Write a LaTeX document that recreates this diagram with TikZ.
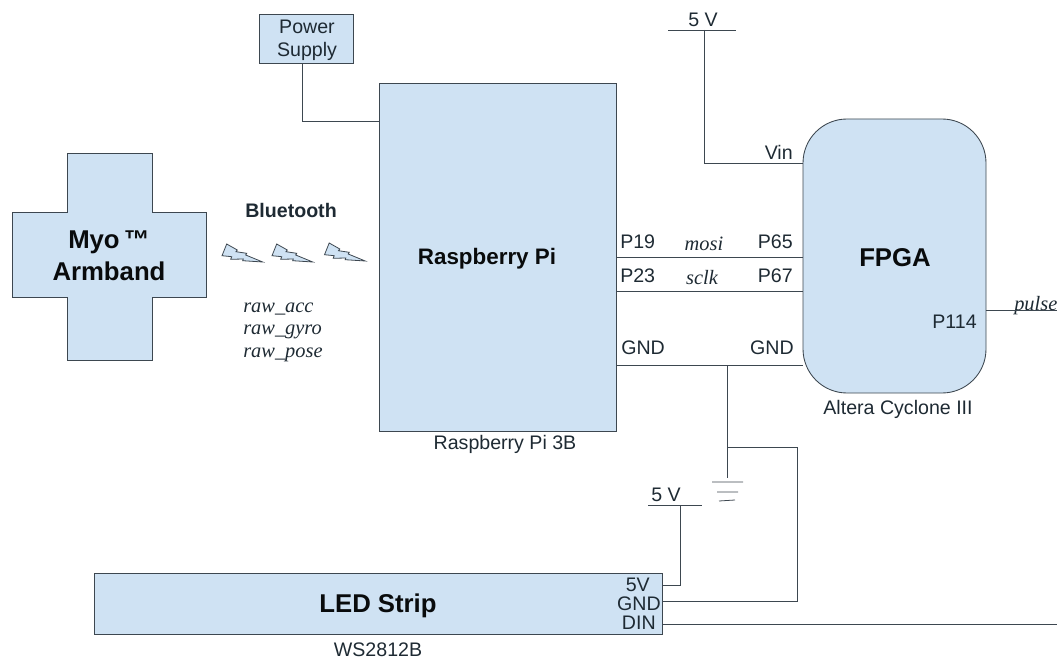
\documentclass[tikz,border=0pt]{standalone}
\usepackage{fontspec}
\setmainfont{Liberation Sans}
\newfontfamily\serifit[ItalicFont=Liberation Serif Italic]{Liberation Serif}
\definecolor{boxfill}{HTML}{CFE2F3}
\definecolor{boxline}{HTML}{3D4750}
\definecolor{txt}{HTML}{1E2A33}
\tikzset{
  wire/.style={draw=boxline,line width=0.7pt},
  block/.style={draw=boxline,fill=boxfill,line width=0.65pt,inner sep=0pt},
  lbl/.style={text=txt,inner sep=0pt,font=\fontsize{14.7pt}{17.5pt}\selectfont,align=center},
  ttl/.style={text=black!85!boxline,inner sep=0pt,font=\fontsize{16.8pt}{24pt}\selectfont\bfseries,align=center},
  ttlb/.style={ttl,font=\fontsize{19.3pt}{24pt}\selectfont\bfseries},
  sig/.style={text=txt,inner sep=0pt,font=\fontsize{15.3pt}{16.9pt}\selectfont\serifit\itshape,align=left},
  bolt/.style={draw=boxline,fill=boxfill,line width=0.6pt,line join=miter},
}
\begin{document}
\begin{tikzpicture}[x=0.75pt,y=-0.75pt]
\useasboundingbox (0,0) rectangle (1057,660);
% blocks
\node[block,minimum width=177.75pt,minimum height=261pt] (pi) at (497.5,257) {};
\node[block,minimum width=137.25pt,minimum height=205.5pt,rounded corners=33pt] (fpga) at (894.5,256) {};
\node[block,minimum width=70.5pt,minimum height=36.75pt] (psu) at (306,38.5) {};
\node[block,minimum width=426pt,minimum height=45.75pt] (led) at (378,603.5) {};
\draw[block] (67,153) -- (152,153) -- (152,212) -- (206,212) -- (206,297) -- (152,297) -- (152,360) -- (67,360) -- (67,297) -- (12,297) -- (12,212) -- (67,212) -- cycle;
% titles
\node[ttlb] (myoT) at (109,256) {Myo\,™\\Armband};
\node[ttl] (piT) at (487,259) {Raspberry Pi};
\node[ttlb] (fpgaT) at (895,258) {FPGA};
\node[ttlb] (ledT) at (378,606) {LED Strip};
\node[lbl] (psuT) at (307,40) {Power\\Supply};
\node[lbl,font=\fontsize{14.7pt}{16pt}\selectfont\bfseries] (bt) at (291,210) {Bluetooth};
% signals
\node[sig,anchor=west] (raw) at (243,332) {raw\_acc\\raw\_gyro\\raw\_pose};
\node[sig] (mosi) at (704,244) {mosi};
\node[sig] (sclk) at (702,278) {sclk};
\node[sig,anchor=west] (pulse) at (1014,306) {pulse};
% pin labels
\node[lbl,anchor=west] (p19) at (620,242) {P19};
\node[lbl,anchor=west] (p23) at (620,276) {P23};
\node[lbl,anchor=west] (gndl) at (621,348) {GND};
\node[lbl,anchor=east] (p65) at (793,242) {P65};
\node[lbl,anchor=east] (p67) at (793,276) {P67};
\node[lbl,anchor=east] (gndr) at (794,348) {GND};
\node[lbl,anchor=east] (vin) at (793,152) {Vin};
\node[lbl,anchor=east] (p114) at (977,322) {P114};
\node[lbl] (cap1) at (505,444) {Raspberry Pi 3B};
\node[lbl] (cap2) at (898,409) {Altera Cyclone III};
\node[lbl] (cap3) at (378,650) {WS2812B};
\node[lbl] (v1) at (703,20) {5 V};
\node[lbl] (v2) at (666,495) {5 V};
\node[lbl,anchor=east] (s5) at (650,585) {5V};
\node[lbl,anchor=east] (sg) at (661,604) {GND};
\node[lbl,anchor=east] (sd) at (656,623) {DIN};
% lightning
\foreach \dx/\dy in {0/0,50/0,102.5/-1}{
  \draw[bolt,shift={(\dx*0.75pt,-\dy*0.75pt)}] (222,255.7) -- (226.7,244) -- (237.3,250) -- (236,251.7) -- (246.7,253.3) -- (245.7,255) -- (262.7,262) -- (242.7,260.7) -- (243.3,259) -- (230.7,259.3) -- (231.7,256.7) -- cycle;
}
% free ends and junctions
\coordinate (rail1L) at (668,30);
\coordinate (rail1R) at (736,30);
\coordinate (rail1) at (704,30);
\coordinate (rail2L) at (648,505);
\coordinate (rail2R) at (702,505);
\coordinate (rail2) at (680,505);
\coordinate (j) at (727,365);
\coordinate (j2) at (727,447);
\coordinate (g0) at (727,478);
\coordinate (gA) at (712,482);
\coordinate (gB) at (743,482);
\coordinate (gC) at (717,492);
\coordinate (gD) at (738,492);
\coordinate (gE) at (719,501);
\coordinate (gF) at (735,500);
\coordinate (offD) at (1057,624);
\coordinate (offP) at (1057,310);
% connectors
\draw[wire] (psu.south -| 302,0) |- (pi.west |- 0,121);
\draw[wire] (rail1L) -- (rail1R);
\draw[wire] (rail1) |- (fpga.west |- 0,163);
\draw[wire] (pi.east |- 0,257) -- (fpga.west |- 0,257);
\draw[wire] (pi.east |- 0,291) -- (fpga.west |- 0,291);
\draw[wire] (pi.east |- 0,365) -- (fpga.west |- 0,365);
\draw[wire] (fpga.east |- 0,310) -- (offP);
\draw[wire] (j) -- (g0);
\draw[wire] (j2) -- (797,447) -- (797,601) -- (led.east |- 0,601);
\draw[wire,line width=0.6pt] (gA) -- (gB) (gC) -- (gD) (gE) -- (gF);
\draw[wire] (rail2L) -- (rail2R);
\draw[wire] (rail2) |- (led.east |- 0,585);
\draw[wire] (led.east |- 0,624) -- (offD);
\end{tikzpicture}
\end{document}
